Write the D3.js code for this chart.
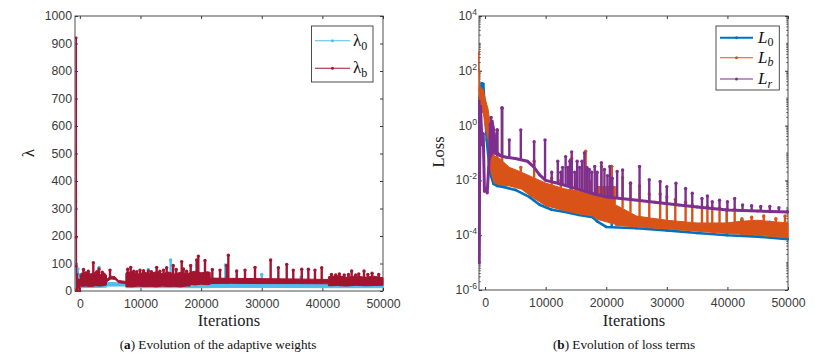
<!DOCTYPE html>
<html>
<head>
<meta charset="utf-8">
<script src="https://cdn.jsdelivr.net/npm/d3@7"></script>
<style>
  body { margin: 0; background: #fff; }
  .sans { font-family: "Liberation Sans", Arial, sans-serif; }
  .tick text { fill: #3a3a3a; font-size: 12.3px; font-family: "Liberation Sans", Arial, sans-serif; }
  .tick line { stroke: #3a3a3a; }
</style>
</head>
<body>
<svg id="fig" width="839" height="359"></svg>
<script>
// ---------- data, panel (a): adaptive weights ----------
const iterTicks = [0, 10000, 20000, 30000, 40000, 50000];
const lamTicks = [0, 100, 200, 300, 400, 500, 600, 700, 800, 900, 1000];

// [iteration, value]
const lam0Start = [[-600, 325], [-580, 80], [-540, 20], [-480, 70], [-400, 15], [-300, 80], [-150, 20], [50, 60], [200, 25]];
// [iteration, low, high]
const lam0Band = [[200, 12, 55], [4400, 14, 48], [4400, 18, 32], [7600, 18, 28], [7600, 12, 60],
                  [21500, 12, 60], [21500, 13, 27], [30000, 13, 26], [41000, 12, 25], [50000, 12, 24]];
// [iteration, peak]
const lam0Spikes = [[-350, 80], [3160, 86], [11290, 78], [14980, 113], [19300, 95], [24000, 95],
                    [30000, 60], [36500, 50], [45000, 45]];

const lamBStart = [[-600, 920], [-590, 195], [-575, 90], [-540, 5], [-460, 60], [-380, 0], [-200, 40], [-20, 0], [150, 55]];
const lamBBand = [[200, 17, 64], [1000, 18, 70], [1800, 16, 62], [2600, 19, 68], [3400, 18, 60], [4000, 20, 66],
                  [4400, 22, 58], [4400, 33, 42], [5100, 44, 54], [5800, 42, 52], [6400, 30, 38], [7600, 27, 35],
                  [7600, 16, 66], [8600, 15, 70], [9600, 18, 62], [10600, 16, 68], [11600, 17, 64], [12600, 15, 70],
                  [13600, 18, 63], [14600, 16, 69], [15600, 17, 62], [16600, 15, 68], [17600, 18, 64],
                  [18200, 18, 66], [18200, 24, 68], [19000, 22, 72], [20000, 25, 66], [21000, 23, 70],
                  [21500, 24, 68], [21500, 27, 47], [25000, 28, 46], [30000, 27, 45], [35000, 27, 44],
                  [41000, 26, 42], [41000, 19, 52], [42500, 20, 56], [44000, 18, 50], [45500, 21, 55],
                  [47000, 19, 50], [48500, 20, 54], [50000, 21, 48]];
const lamBSpikes = [[600, 78], [1400, 72], [2218, 103], [2800, 70], [3160, 80], [3700, 68], [4970, 76], [7890, 79],
                    [8390, 86], [8900, 72], [9400, 70], [9920, 76], [10500, 74], [11290, 73], [11800, 70],
                    [12670, 86], [13200, 72], [13800, 76], [14320, 85], [15400, 93], [15900, 78], [16800, 107],
                    [17100, 80], [17600, 72], [18280, 93], [19270, 113], [19540, 127], [20640, 111], [21850, 78],
                    [23120, 76], [24220, 93], [24490, 130], [25870, 73], [27240, 76], [28890, 86], [31470, 113],
                    [32740, 85], [34120, 97], [35200, 76], [36600, 79], [37690, 79], [38780, 76], [39890, 85],
                    [41500, 60], [42200, 58], [42800, 62], [43600, 58], [44300, 60], [44830, 73], [45500, 58],
                    [46000, 62], [46870, 73], [47500, 60], [48200, 65], [49300, 60]];

// ---------- data, panel (b): loss terms ----------
const lossTicks = [1e-6, 1e-4, 1e-2, 1, 1e2, 1e4];
const lossExp = ["-6", "-4", "-2", "0", "2", "4"];

const l0Line = [[-1000, 10], [-820, 12], [-550, 35], [-290, 33], [0, 3], [270, 0.3], [815, 0.019], [1400, 0.0075],
                [2000, 0.0063], [3000, 0.0058], [5000, 0.0045], [7300, 0.0025], [9000, 0.0013], [11000, 0.00085],
                [13000, 0.00072], [15500, 0.00055], [17800, 0.00045], [18500, 0.00032], [20000, 0.0002],
                [25000, 0.00018], [30000, 0.00015], [35000, 0.00012], [40000, 0.0001], [45000, 0.000089],
                [50000, 0.000072]];
const l0Spikes = [[2000, 0.7], [2800, 4.4], [14100, 0.056], [20900, 0.032], [39900, 0.00083], [42400, 0.00035], [47000, 0.0003]];

const lbStart = [[-1100, 450], [-1000, 100], [-900, 20], [-700, 8], [-500, 15], [-300, 5]];
const lbBand = [[-1000, 3, 30], [-300, 3, 20], [0, 1, 10], [500, 0.3, 4], [1000, 0.02, 0.6], [1500, 0.008, 0.08],
                [2500, 0.0068, 0.06], [4000, 0.0063, 0.03], [6000, 0.0048, 0.02], [8000, 0.0023, 0.0126],
                [10000, 0.0012, 0.008], [13000, 0.0008, 0.005], [15500, 0.0006, 0.004], [17800, 0.0005, 0.003],
                [18500, 0.00038, 0.006], [21500, 0.00025, 0.006], [21500, 0.00023, 0.0013], [25000, 0.0002, 0.0005],
                [30000, 0.00017, 0.00035], [35000, 0.00014, 0.00028], [40000, 0.000115, 0.00028],
                [42000, 0.00011, 0.00032], [45000, 0.0001, 0.00035], [50000, 0.00008, 0.00028]];
const lbSpikes = [[2000, 0.7], [2800, 4.4], [5900, 0.03], [8100, 0.05], [11000, 0.012], [12500, 0.01], [14300, 0.063],
                  [15000, 0.01], [16600, 0.117], [17400, 0.009], [19200, 0.032], [20900, 0.032], [22700, 0.0126],
                  [24000, 0.008], [25500, 0.0063], [27100, 0.0032], [28900, 0.0032], [30000, 0.0025], [31400, 0.002],
                  [33100, 0.0016], [34200, 0.00126], [35800, 0.001], [36700, 0.0011], [37500, 0.001], [38700, 0.001],
                  [39900, 0.00089], [41200, 0.00089], [42400, 0.0004], [44000, 0.00045], [46000, 0.0005],
                  [48000, 0.0004], [49500, 0.0005]];

const lrLine = [[-1000, 8], [-960, 0.00001], [-900, 0.03], [-750, 5], [-500, 0.2], [-300, 0.5], [-100, 0.004],
                [150, 0.005], [350, 0.0035], [600, 0.03], [900, 0.6], [1200, 0.3], [1500, 0.13], [2500, 0.08],
                [3500, 0.07], [5000, 0.063], [7000, 0.05], [8000, 0.032], [9000, 0.016], [10000, 0.01],
                [12000, 0.0079], [15000, 0.005], [18000, 0.0032], [20000, 0.0025], [24000, 0.002], [28000, 0.0016],
                [32000, 0.00126], [35000, 0.00107], [40000, 0.00083], [45000, 0.00076], [50000, 0.00071]];
const lrBand = [[700, 0.05, 1.2], [1300, 0.1, 1.6], [2000, 0.08, 0.2]];
const lrSpikes = [[1000, 2], [2000, 0.69], [2800, 4.4], [4000, 0.3], [5900, 0.69], [8100, 0.26], [9900, 0.3],
                  [11000, 0.02], [12000, 0.05], [12500, 0.02], [12800, 0.03], [13300, 0.074], [13700, 0.03],
                  [14000, 0.05], [14300, 0.11], [14800, 0.02], [15200, 0.05], [15600, 0.03], [16000, 0.05],
                  [16400, 0.1], [16800, 0.03], [17200, 0.025], [17600, 0.02], [18100, 0.032], [18500, 0.02],
                  [19200, 0.044], [19700, 0.025], [20200, 0.015], [20600, 0.032], [21000, 0.012], [21800, 0.021],
                  [22700, 0.024], [24000, 0.0079], [25500, 0.032], [27100, 0.0105], [28900, 0.0091], [30000, 0.0059],
                  [31500, 0.0079], [33100, 0.0051], [34200, 0.0034], [35800, 0.0022], [36700, 0.0027],
                  [37500, 0.00166], [38700, 0.0019], [40000, 0.00166], [41200, 0.0022], [42500, 0.00126],
                  [44000, 0.0012], [45500, 0.00112], [47000, 0.00112], [48500, 0.001]];

const colLam0 = "#4DBEEE", colLamB = "#A2142F";
const colL0 = "#0072BD", colLb = "#D95319", colLr = "#7E2F8E";
const axisCol = "#3a3a3a";
const serifFont = "'Liberation Serif', 'Times New Roman', 'DejaVu Serif', serif";

const svg = d3.select("#fig");

// pixel y of a series at a given iteration (linear between its points)
function yAt(arr, it, col, y) {
  const i = Math.max(1, Math.min(arr.length - 1, d3.bisector(d => d[0]).left(arr, it)));
  const a = arr[i - 1], b = arr[i];
  const t = b[0] === a[0] ? 0 : Math.max(0, Math.min(1, (it - a[0]) / (b[0] - a[0])));
  return y(a[col]) + t * (y(b[col]) - y(a[col]));
}

function drawBand(g, data, x, y, color) {
  g.append("path").datum(data)
    .attr("d", d3.area().x(d => x(d[0])).y0(d => y(d[1])).y1(d => y(d[2])))
    .attr("fill", color).attr("stroke", color).attr("stroke-width", 1);
}

function drawLine(g, data, x, y, color, w) {
  g.append("path").datum(data)
    .attr("d", d3.line().x(d => x(d[0])).y(d => y(d[1])))
    .attr("fill", "none").attr("stroke", color).attr("stroke-width", w)
    .attr("stroke-linejoin", "round");
  g.selectAll(null).data(data).join("circle")
    .attr("cx", d => x(d[0])).attr("cy", d => y(d[1])).attr("r", 1.4).attr("fill", color);
}

function drawSpikes(g, data, baseFn, x, y, color) {
  g.selectAll(null).data(data).join("line")
    .attr("x1", d => x(d[0])).attr("x2", d => x(d[0]))
    .attr("y1", d => baseFn(d[0])).attr("y2", d => y(d[1]))
    .attr("stroke", color).attr("stroke-width", 2.4);
  g.selectAll(null).data(data).join("circle")
    .attr("cx", d => x(d[0])).attr("cy", d => y(d[1])).attr("r", 1.7).attr("fill", color);
}

function drawFrame(g, x, y, yTickVals, yFmt) {
  const [l, r] = x.range(), [b, t] = y.range();
  g.append("g").attr("transform", `translate(0,${b})`)
    .call(d3.axisBottom(x).tickValues(iterTicks).tickSize(-3).tickPadding(8).tickFormat(d3.format("d")))
    .call(s => s.select(".domain").remove());
  g.append("g").attr("transform", `translate(0,${t})`)
    .call(d3.axisTop(x).tickValues(iterTicks).tickSize(-3).tickFormat(""))
    .call(s => s.select(".domain").remove());
  g.append("g").attr("transform", `translate(${l},0)`)
    .call(d3.axisLeft(y).tickValues(yTickVals).tickSize(-3).tickPadding(3).tickFormat(yFmt))
    .call(s => s.select(".domain").remove());
  g.append("g").attr("transform", `translate(${r},0)`)
    .call(d3.axisRight(y).tickValues(yTickVals).tickSize(-3).tickFormat(""))
    .call(s => s.select(".domain").remove());
  g.append("rect").attr("x", l).attr("y", t).attr("width", r - l).attr("height", b - t)
    .attr("fill", "none").attr("stroke", axisCol).attr("stroke-width", 0.9);
}

function serifText(g, x, y, size, fill) {
  return g.append("text").attr("x", x).attr("y", y).attr("font-size", size)
    .attr("fill", fill).style("font-family", serifFont);
}

// ================= panel (a) =================
const xA = d3.scaleLinear().domain([-800, 50000]).range([75, 383]);
const yA = d3.scaleLinear().domain([0, 1000]).range([291, 16]);
const gA = svg.append("g");

drawFrame(gA, xA, yA, lamTicks, d3.format("d"));

svg.append("clipPath").attr("id", "clipA").append("rect")
  .attr("x", 74).attr("y", 10).attr("width", 310).attr("height", 282);
const plotA = gA.append("g").attr("clip-path", "url(#clipA)");

drawBand(plotA, lam0Band, xA, yA, colLam0);
drawLine(plotA, lam0Start, xA, yA, colLam0, 1.5);
drawSpikes(plotA, lam0Spikes, it => yAt(lam0Band, it, 1, yA), xA, yA, colLam0);

drawBand(plotA, lamBBand, xA, yA, colLamB);
drawLine(plotA, lamBStart, xA, yA, colLamB, 1.6);
drawSpikes(plotA, lamBSpikes, it => yAt(lamBBand, it, 1, yA), xA, yA, colLamB);

serifText(gA, 0, 0, 17, "#222").attr("transform", "translate(34,153) rotate(-90)")
  .attr("text-anchor", "middle").text("λ");
serifText(gA, 229, 326, 16.5, "#222").attr("text-anchor", "middle").text("Iterations");
const capA = serifText(gA, 218, 349, 13.2, "#111").attr("text-anchor", "middle");
capA.append("tspan").text("(");
capA.append("tspan").attr("font-weight", "bold").text("a");
capA.append("tspan").text(") Evolution of the adaptive weights");

// legend (a)
const legA = gA.append("g");
legA.append("rect").attr("x", 311.5).attr("y", 26).attr("width", 61.5).attr("height", 56)
  .attr("fill", "#fff").attr("stroke", axisCol).attr("stroke-width", 0.9);
[[colLam0, "0", 40.7], [colLamB, "b", 68.3]].forEach(([c, sub, ly]) => {
  legA.append("line").attr("x1", 315).attr("x2", 350).attr("y1", ly).attr("y2", ly)
    .attr("stroke", c).attr("stroke-width", 1.1);
  legA.append("circle").attr("cx", 332.5).attr("cy", ly).attr("r", 1.5).attr("fill", c);
  const t = serifText(legA, 353, ly + 5, 17, "#111");
  t.append("tspan").text("λ");
  t.append("tspan").attr("font-size", 12).attr("dy", 4).text(sub);
});

// ================= panel (b) =================
const xB = d3.scaleLinear().domain([-1000, 50000]).range([479, 788]);
const yB = d3.scaleLog().domain([1e-6, 1e4]).range([290, 16]);
const gB = svg.append("g");

drawFrame(gB, xB, yB, lossTicks, () => "");
// superscript labels
gB.selectAll(null).data(lossTicks).join("text")
  .attr("class", "sans")
  .attr("x", 477).attr("y", d => yB(d) + 4).attr("text-anchor", "end")
  .attr("fill", axisCol).attr("font-size", 12.3)
  .each(function (d, i) {
    const t = d3.select(this);
    t.append("tspan").text("10");
    t.append("tspan").attr("font-size", 8.7).attr("dy", -5).text(lossExp[i]);
  });
// minor log ticks
const minor = yB.ticks(20).filter(v => !lossTicks.includes(v));
gB.selectAll(null).data(minor).join("line")
  .attr("x1", 479).attr("x2", 480.8).attr("y1", d => yB(d)).attr("y2", d => yB(d))
  .attr("stroke", axisCol).attr("stroke-width", 0.8);
gB.selectAll(null).data(minor).join("line")
  .attr("x1", 786.2).attr("x2", 788).attr("y1", d => yB(d)).attr("y2", d => yB(d))
  .attr("stroke", axisCol).attr("stroke-width", 0.8);

svg.append("clipPath").attr("id", "clipB").append("rect")
  .attr("x", 478).attr("y", 16).attr("width", 311).attr("height", 274);
const plotB = gB.append("g").attr("clip-path", "url(#clipB)");

drawLine(plotB, l0Line, xB, yB, colL0, 2.6);
drawSpikes(plotB, l0Spikes, it => yAt(l0Line, it, 1, yB), xB, yB, colL0);

drawBand(plotB, lbBand, xB, yB, colLb);
drawLine(plotB, lbStart, xB, yB, colLb, 1.4);
drawSpikes(plotB, lbSpikes, it => yAt(lbBand, it, 2, yB), xB, yB, colLb);

drawBand(plotB, lrBand, xB, yB, colLr);
drawLine(plotB, lrLine, xB, yB, colLr, 3);
drawSpikes(plotB, lrSpikes, it => yAt(lrLine, it, 1, yB), xB, yB, colLr);

serifText(gB, 0, 0, 16.5, "#222").attr("transform", "translate(444,152) rotate(-90)")
  .attr("text-anchor", "middle").text("Loss");
serifText(gB, 634, 326, 16.5, "#222").attr("text-anchor", "middle").text("Iterations");
const capB = serifText(gB, 624, 349, 13.2, "#111").attr("text-anchor", "middle");
capB.append("tspan").text("(");
capB.append("tspan").attr("font-weight", "bold").text("b");
capB.append("tspan").text(") Evolution of loss terms");

// legend (b)
const legB = gB.append("g");
legB.append("rect").attr("x", 716).attr("y", 26).attr("width", 63.3).attr("height", 64)
  .attr("fill", "#fff").attr("stroke", axisCol).attr("stroke-width", 0.9);
[[colL0, "0", 37.7, 2, "normal"], [colLb, "b", 57.7, 1.1, "italic"], [colLr, "r", 79, 1.1, "italic"]]
  .forEach(([c, sub, ly, w, st]) => {
    legB.append("line").attr("x1", 720).attr("x2", 753).attr("y1", ly).attr("y2", ly)
      .attr("stroke", c).attr("stroke-width", w);
    legB.append("circle").attr("cx", 736.5).attr("cy", ly).attr("r", 1.5).attr("fill", c);
    const t = serifText(legB, 758, ly + 5, 17, "#111");
    t.append("tspan").attr("font-style", "italic").text("L");
    t.append("tspan").attr("font-size", 12).attr("dy", 3.5).attr("font-style", st).text(sub);
  });
</script>
</body>
</html>
